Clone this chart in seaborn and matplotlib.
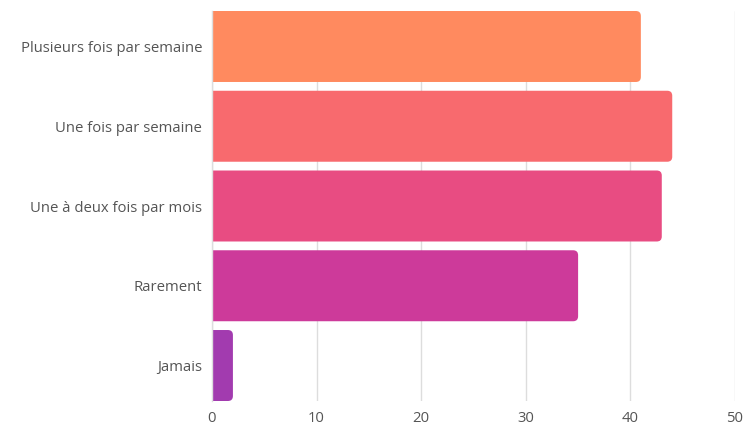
import matplotlib
matplotlib.use("Agg")
import matplotlib.pyplot as plt
import seaborn as sns
import pandas as pd
from matplotlib.patches import FancyBboxPatch

categories = ["Plusieurs fois par semaine", "Une fois par semaine", "Une à deux fois par mois", "Rarement", "Jamais"]
values = [41, 44, 43, 35, 2]
colors = ["#FF8A5F", "#F86A6E", "#E84C82", "#CD3A9A", "#A23BAF"]
xticks = [0, 10, 20, 30, 40, 50]

sns.set_theme(style="white")
plt.rcParams['font.family'] = ['Open Sans', 'DejaVu Sans']

W, H = 743, 425
fig = plt.figure(figsize=(W / 100, H / 100), dpi=100)
ax = fig.add_axes([212 / W, 1 - 401 / H, (735 - 212) / W, (401 - 11) / H])

df = pd.DataFrame({"cat": categories, "val": values})
bar_h = 0.89
sns.barplot(data=df, x="val", y="cat", hue="cat", palette=colors, legend=False,
            width=bar_h, ax=ax, orient="h", saturation=1)

# replace patches with right-rounded bars
px_per_x = (735 - 212) / 50
px_per_y = (401 - 11) / (4 + bar_h)
r = 5 / px_per_x
aspect = px_per_x / px_per_y
old = list(ax.patches)
for p in old:
    x0, y0 = p.get_x(), p.get_y()
    w, h = p.get_width(), p.get_height()
    fc = p.get_facecolor()
    p.remove()
    fb = FancyBboxPatch((x0 - 2, y0), w + 2, h,
                        boxstyle=f"round,pad=0,rounding_size={r}",
                        mutation_aspect=aspect, facecolor=fc, edgecolor="none",
                        zorder=2, clip_on=True)
    ax.add_patch(fb)

ax.set_xlim(0, 50)
ax.set_ylim(4 + bar_h / 2, -bar_h / 2)
ax.set_xticks(xticks)
ax.set_xticklabels([str(t) for t in xticks])
ax.set_xlabel("")
ax.set_ylabel("")
ax.grid(axis="x", color="#DDDDDD", linewidth=1, zorder=0)
ax.set_axisbelow(True)
for s in ["top", "right", "bottom"]:
    ax.spines[s].set_visible(False)
ax.spines["left"].set_color("#DDDDDD")
ax.spines["left"].set_linewidth(1)
ax.tick_params(axis="both", length=0, labelsize=10.7, labelcolor="#555555")
ax.tick_params(axis="x", pad=7)
ax.tick_params(axis="y", pad=7)

fig.savefig("out.png", dpi=100)
